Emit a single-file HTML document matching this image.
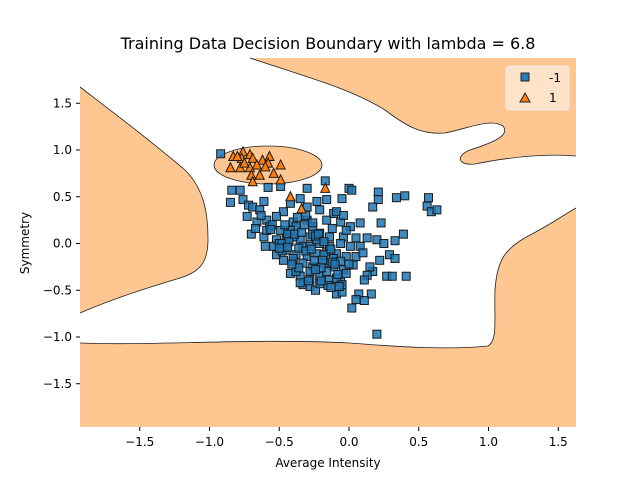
<!DOCTYPE html>
<html><head><meta charset="utf-8"><style>
body{margin:0;background:#fff;font-family:"Liberation Sans","DejaVu Sans",sans-serif}
svg text{font-family:"DejaVu Sans","Liberation Sans",sans-serif}
</style></head><body>
<svg id="chart" width="640" height="480" xmlns="http://www.w3.org/2000/svg">
<rect width="640" height="480" fill="#fff"/>
<text x="328" y="49" font-size="16" text-anchor="middle">Training Data Decision Boundary with lambda = 6.8</text>
<g fill="#fec690" stroke="none">
<path d="M80,87 C110,110 150,140 185,170 C205,190 208,215 208,240 C208,262 200,272 180,278 C140,290 110,300 80,313 Z"/>
<path d="M250,58 C300,75 350,88 385,110 C405,125 420,135 445,133 C470,128 490,118 503,126 C510,135 495,142 470,150 C455,156 458,166 475,164 C505,158 540,153 576,156 L576,58 Z"/>
<path d="M80,343 C150,346 250,338 350,343 C400,347 450,350 488,346 C498,340 494,320 495,290 C497,260 505,248 530,235 C550,225 565,214 576,208 L576,427 L80,427 Z"/>
<ellipse cx="268" cy="165" rx="54" ry="19" stroke="#222" stroke-width="0.8"/>
</g>
<g fill="none" stroke="#222" stroke-width="0.8">
<path d="M80,87 C110,110 150,140 185,170 C205,190 208,215 208,240 C208,262 200,272 180,278 C140,290 110,300 80,313"/>
<path d="M250,58 C300,75 350,88 385,110 C405,125 420,135 445,133 C470,128 490,118 503,126 C510,135 495,142 470,150 C455,156 458,166 475,164 C505,158 540,153 576,156"/>
<path d="M80,343 C150,346 250,338 350,343 C400,347 450,350 488,346 C498,340 494,320 495,290 C497,260 505,248 530,235 C550,225 565,214 576,208"/>
</g>
<g id="marks"></g>
<g id="axes" font-size="12"></g>
<text x="328" y="467" font-size="12" text-anchor="middle">Average Intensity</text>
<text x="29" y="243" font-size="12" text-anchor="middle" transform="rotate(-90 29 243)">Symmetry</text>
<g>
<rect x="506" y="66" width="63" height="44" rx="3" fill="#fff" fill-opacity="0.5" stroke="#eee"/>
<rect x="521" y="73" width="8" height="8" fill="#2a7ab3" stroke="#222" stroke-width="1"/>
<text x="549" y="82" font-size="12">-1</text>
<path d="M525,93 L530,102 L520,102 Z" fill="#ff7f0e" stroke="#222" stroke-width="1"/>
<text x="549" y="102" font-size="12">1</text>
</g>
</svg>
<script>
const xTicks=[-1.5,-1.0,-0.5,0.0,0.5,1.0,1.5];
const yTicks=[1.5,1.0,0.5,0.0,-0.5,-1.0,-1.5];
const negX=[-0.92,-0.84,-0.78,-0.85,-0.76,-0.72,-0.58,-0.49,-0.30,-0.17,0.00,0.02,0.21,0.21,0.17,0.34,0.40,0.57,0.56,0.59,0.63,0.23,0.39,0.33,0.29,0.33,0.22,0.17,0.13,0.11,0.27,0.31,0.41,0.16,0.07,0.05,0.11,0.02,-0.09,-0.05,0.20,-0.05,-0.16,-0.23,-0.35,-0.42,-0.61,-0.69,-0.73,-0.70,-0.61,-0.60,-0.52,-0.45,-0.35,-0.28,-0.21,-0.14,-0.04,0.05,0.13,0.20,0.25,0.08,0.01,-0.06,-0.11,-0.09,-0.21,-0.30,-0.40,-0.47,-0.52,-0.59,-0.66,-0.57,-0.49,-0.38,-0.26,-0.16,-0.04,-0.02,-0.52,-0.45,-0.38,-0.30,-0.23,-0.16,-0.09,-0.02,0.05,0.03,-0.04,-0.11,-0.18,-0.26,-0.33,-0.40,-0.42,-0.35,-0.28,-0.21,-0.14,-0.06,-0.02,-0.33,-0.28,-0.24,-0.21,-0.09,-0.16,-0.45,-0.54,-0.59,-0.40,-0.33,-0.28,-0.21,-0.14,-0.06,0.01,0.08,-0.47,-0.38,-0.28,-0.18,-0.30,-0.42,-0.64,-0.23,-0.11,-0.06,-0.50,-0.44,-0.36,-0.26,-0.12,-0.55,-0.48,
-0.48,-0.43,-0.39,-0.34,-0.31,-0.27,-0.24,-0.19,-0.13,-0.08,-0.44,-0.40,-0.36,-0.32,-0.25,-0.20,-0.15,-0.10,-0.05,-0.37,-0.31,-0.26,-0.22,-0.18,-0.12,-0.56,-0.50,-0.46,-0.41,-0.35,-0.29,-0.24,-0.20,-0.13,-0.07,0.00,0.10,0.15,-0.63,-0.67];
const negY=[0.96,0.57,0.57,0.44,0.47,0.41,0.60,0.61,0.59,0.67,0.59,0.57,0.55,0.47,0.39,0.49,0.51,0.49,0.40,0.34,0.36,0.22,0.10,0.03,-0.12,-0.16,-0.18,-0.30,-0.34,-0.39,-0.35,-0.35,-0.35,-0.54,-0.54,-0.60,-0.61,-0.69,-0.54,-0.52,-0.97,0.48,0.47,0.45,0.48,0.43,0.45,0.39,0.29,0.10,0.07,-0.03,0.04,0.07,0.04,0.07,0.11,0.07,0.07,0.06,0.06,0.04,0.00,0.22,0.18,0.23,0.32,0.34,0.36,0.25,0.23,0.34,0.29,0.25,0.23,0.18,0.14,0.18,0.18,0.25,0.30,0.14,-0.12,-0.07,-0.12,-0.14,-0.11,-0.09,-0.11,-0.14,-0.14,-0.23,-0.28,-0.25,-0.21,-0.25,-0.21,-0.19,-0.32,-0.35,-0.37,-0.35,-0.39,-0.41,-0.32,-0.44,-0.46,-0.50,-0.43,-0.37,-0.30,0.04,-0.03,0.14,0.07,-0.03,-0.03,0.00,-0.03,0.00,-0.03,-0.03,-0.18,-0.30,-0.30,-0.12,0.39,0.14,0.36,0.04,-0.16,-0.19,0.00,0.10,-0.05,0.10,-0.20,0.20,-0.08,
0.00,0.02,0.10,0.12,-0.08,-0.06,0.08,-0.18,-0.06,-0.33,-0.04,-0.16,-0.26,0.20,-0.18,-0.26,-0.45,-0.22,-0.44,0.28,0.30,0.22,0.10,0.02,0.16,0.15,-0.05,0.20,-0.22,-0.42,-0.40,-0.28,-0.40,-0.47,-0.46,-0.22,-0.10,-0.25,0.30,0.16];
const posX=[-0.83,-0.76,-0.71,-0.77,-0.69,-0.62,-0.57,-0.58,-0.49,-0.85,-0.78,-0.71,-0.66,-0.60,-0.54,-0.70,-0.64,-0.49,-0.69,-0.42,-0.34,-0.17,-0.75,-0.80];
const posY=[0.93,0.98,0.95,0.91,0.91,0.89,0.93,0.86,0.84,0.81,0.81,0.81,0.84,0.82,0.75,0.73,0.73,0.68,0.66,0.50,0.37,0.59,0.86,0.93];
const sx=v=>349+v*139.5, sy=v=>243.5-v*93.5;
const NS="http://www.w3.org/2000/svg";
const marks=document.getElementById('marks'), axes=document.getElementById('axes');
for(let i=0;i<negX.length;i++){
 const r=document.createElementNS(NS,'rect');
 
 
 r.setAttribute('x',sx(negX[i])-4);r.setAttribute('y',sy(negY[i])-4);
 r.setAttribute('width',8);r.setAttribute('height',8);
 r.setAttribute('fill','#1f77b4');r.setAttribute('fill-opacity','0.85');
 r.setAttribute('stroke','#1a1a1a');r.setAttribute('stroke-width','1');
 marks.appendChild(r);
}
for(let i=0;i<posX.length;i++){
 const x=sx(posX[i]),y=sy(posY[i]);
 const p=document.createElementNS(NS,'path');
 
 
 p.setAttribute('d',`M${x},${y-5} L${x+4.5},${y+4} L${x-4.5},${y+4} Z`);
 p.setAttribute('fill','#ff7f0e');p.setAttribute('stroke','#1a1a1a');p.setAttribute('stroke-width','1');
 marks.appendChild(p);
}
xTicks.forEach(t=>{
 const x=sx(t);
 const l=document.createElementNS(NS,'line');
 
 
 l.setAttribute('x1',x);l.setAttribute('x2',x);l.setAttribute('y1',427);l.setAttribute('y2',431);l.setAttribute('stroke','#000');
 axes.appendChild(l);
 const tx=document.createElementNS(NS,'text');
 
 
 tx.setAttribute('x',x);tx.setAttribute('y',446);tx.setAttribute('text-anchor','middle');
 tx.textContent=(t<0?'\u2212':'')+Math.abs(t).toFixed(1);
 axes.appendChild(tx);
});
yTicks.forEach(t=>{
 const y=sy(t);
 const l=document.createElementNS(NS,'line');
 
 
 l.setAttribute('x1',76);l.setAttribute('x2',80);l.setAttribute('y1',y);l.setAttribute('y2',y);l.setAttribute('stroke','#000');
 axes.appendChild(l);
 const tx=document.createElementNS(NS,'text');
 
 
 tx.setAttribute('x',72);tx.setAttribute('y',y+4);tx.setAttribute('text-anchor','end');
 tx.textContent=(t<0?'\u2212':'')+Math.abs(t).toFixed(1);
 axes.appendChild(tx);
});
</script>
</body></html>
